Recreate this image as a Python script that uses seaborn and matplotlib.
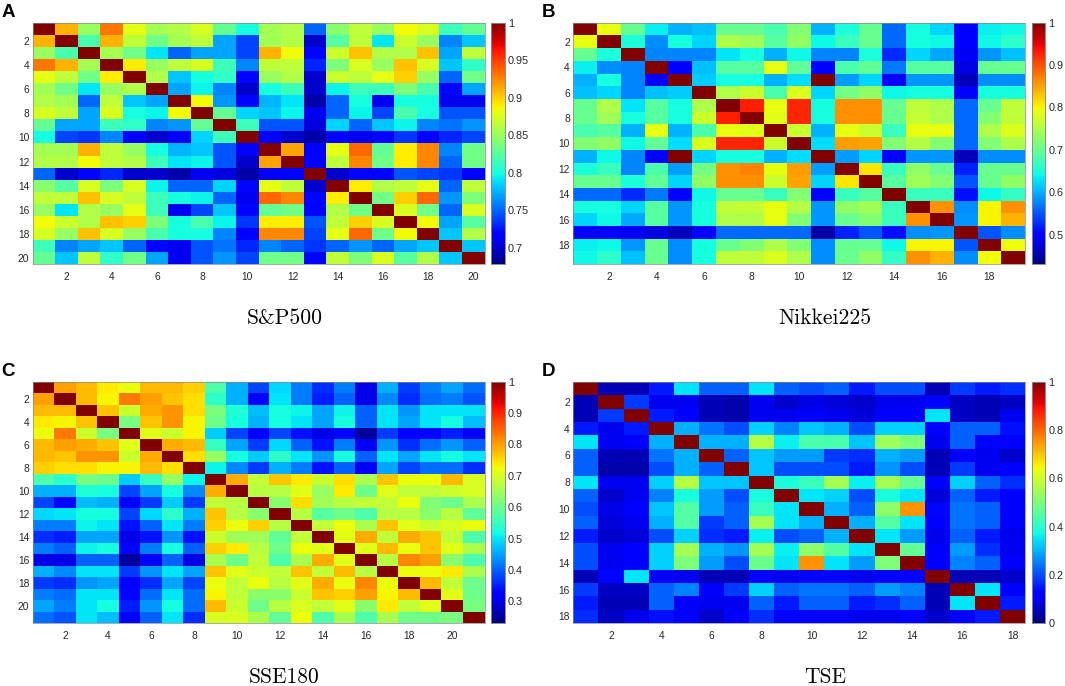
import numpy as np
import matplotlib
matplotlib.use("Agg")
import matplotlib.pyplot as plt
import seaborn as sns

sns.set_style("white")
plt.rcParams['font.family'] = ['Liberation Sans', 'DejaVu Sans']

# ---------------- data ----------------
sp500 = [
 [1.0,0.91,0.85,0.93,0.88,0.855,0.86,0.875,0.83,0.80,0.855,0.86,0.75,0.845,0.865,0.85,0.885,0.875,0.815,0.83],
 [0.91,1.0,0.82,0.91,0.865,0.835,0.855,0.865,0.77,0.74,0.855,0.86,0.70,0.825,0.865,0.79,0.87,0.85,0.76,0.78],
 [0.85,0.82,1.0,0.855,0.835,0.79,0.75,0.77,0.77,0.74,0.91,0.885,0.72,0.87,0.905,0.86,0.86,0.905,0.77,0.865],
 [0.93,0.91,0.855,1.0,0.89,0.85,0.865,0.875,0.815,0.76,0.865,0.865,0.73,0.84,0.875,0.85,0.905,0.875,0.78,0.81],
 [0.88,0.865,0.835,0.89,1.0,0.86,0.78,0.80,0.81,0.72,0.85,0.86,0.70,0.87,0.865,0.88,0.90,0.85,0.75,0.835],
 [0.855,0.835,0.79,0.85,0.86,1.0,0.77,0.795,0.76,0.70,0.80,0.815,0.70,0.795,0.815,0.815,0.84,0.82,0.72,0.77],
 [0.86,0.855,0.75,0.865,0.78,0.77,1.0,0.885,0.765,0.72,0.775,0.79,0.69,0.75,0.80,0.71,0.80,0.80,0.71,0.71],
 [0.875,0.865,0.77,0.875,0.80,0.795,0.885,1.0,0.83,0.785,0.78,0.795,0.71,0.75,0.795,0.74,0.82,0.80,0.745,0.745],
 [0.83,0.77,0.77,0.815,0.81,0.76,0.765,0.83,1.0,0.815,0.745,0.745,0.705,0.785,0.75,0.78,0.795,0.76,0.755,0.765],
 [0.80,0.74,0.735,0.76,0.72,0.70,0.715,0.785,0.815,1.0,0.715,0.70,0.69,0.72,0.71,0.72,0.735,0.715,0.73,0.74],
 [0.855,0.855,0.91,0.865,0.85,0.80,0.775,0.78,0.745,0.715,1.0,0.915,0.715,0.88,0.935,0.83,0.89,0.925,0.76,0.835],
 [0.86,0.86,0.885,0.865,0.86,0.815,0.79,0.795,0.745,0.70,0.915,1.0,0.715,0.865,0.925,0.835,0.89,0.925,0.75,0.835],
 [0.75,0.70,0.72,0.73,0.70,0.70,0.69,0.71,0.705,0.69,0.715,0.715,1.0,0.70,0.72,0.72,0.745,0.74,0.735,0.72],
 [0.845,0.825,0.875,0.84,0.875,0.795,0.75,0.75,0.785,0.72,0.88,0.865,0.70,1.0,0.89,0.86,0.865,0.88,0.75,0.865],
 [0.865,0.865,0.905,0.875,0.865,0.815,0.80,0.795,0.75,0.71,0.935,0.925,0.72,0.89,1.0,0.835,0.90,0.935,0.765,0.84],
 [0.85,0.79,0.86,0.85,0.88,0.815,0.71,0.74,0.78,0.72,0.83,0.835,0.72,0.86,0.835,1.0,0.875,0.835,0.75,0.875],
 [0.885,0.87,0.86,0.905,0.90,0.84,0.80,0.82,0.795,0.735,0.89,0.89,0.745,0.865,0.90,0.875,1.0,0.885,0.77,0.825],
 [0.875,0.85,0.905,0.875,0.85,0.82,0.80,0.80,0.76,0.715,0.925,0.925,0.74,0.88,0.935,0.835,0.885,1.0,0.78,0.86],
 [0.815,0.76,0.77,0.78,0.75,0.72,0.71,0.745,0.755,0.73,0.76,0.75,0.735,0.75,0.765,0.75,0.77,0.78,1.0,0.78],
 [0.83,0.78,0.865,0.81,0.835,0.77,0.71,0.745,0.765,0.74,0.835,0.835,0.72,0.865,0.84,0.875,0.825,0.86,0.78,1.0],
]

nikkei225 = [
 [1.0,0.79,0.70,0.635,0.60,0.61,0.70,0.70,0.68,0.72,0.60,0.65,0.70,0.56,0.645,0.62,0.50,0.635,0.64],
 [0.79,1.0,0.65,0.58,0.645,0.62,0.75,0.74,0.69,0.73,0.64,0.67,0.70,0.56,0.645,0.64,0.50,0.64,0.66],
 [0.70,0.65,1.0,0.575,0.575,0.575,0.63,0.645,0.60,0.64,0.575,0.575,0.65,0.525,0.62,0.595,0.49,0.585,0.61],
 [0.635,0.58,0.575,1.0,0.50,0.61,0.69,0.69,0.79,0.695,0.50,0.68,0.695,0.57,0.69,0.69,0.48,0.70,0.70],
 [0.60,0.645,0.575,0.50,1.0,0.615,0.645,0.645,0.60,0.625,1.0,0.59,0.62,0.50,0.585,0.585,0.46,0.58,0.58],
 [0.61,0.62,0.575,0.61,0.615,1.0,0.75,0.77,0.68,0.78,0.62,0.71,0.73,0.64,0.645,0.645,0.50,0.645,0.645],
 [0.70,0.75,0.63,0.69,0.645,0.75,1.0,0.93,0.79,0.925,0.645,0.86,0.86,0.70,0.76,0.75,0.56,0.70,0.76],
 [0.70,0.74,0.645,0.69,0.645,0.77,0.93,1.0,0.785,0.925,0.645,0.86,0.86,0.70,0.765,0.75,0.56,0.72,0.76],
 [0.68,0.69,0.60,0.79,0.60,0.68,0.79,0.785,1.0,0.77,0.60,0.79,0.77,0.67,0.79,0.79,0.56,0.75,0.78],
 [0.72,0.73,0.64,0.695,0.625,0.78,0.925,0.925,0.77,1.0,0.625,0.855,0.85,0.72,0.755,0.72,0.56,0.72,0.75],
 [0.60,0.64,0.575,0.50,1.0,0.62,0.645,0.645,0.60,0.625,1.0,0.59,0.62,0.50,0.585,0.585,0.46,0.58,0.58],
 [0.65,0.67,0.575,0.68,0.59,0.71,0.86,0.87,0.79,0.855,0.59,1.0,0.81,0.67,0.73,0.70,0.52,0.70,0.70],
 [0.70,0.70,0.65,0.695,0.62,0.73,0.86,0.86,0.77,0.85,0.62,0.81,1.0,0.69,0.74,0.72,0.55,0.70,0.73],
 [0.56,0.56,0.525,0.57,0.50,0.64,0.70,0.70,0.67,0.72,0.50,0.67,0.69,1.0,0.67,0.67,0.51,0.64,0.665],
 [0.645,0.645,0.62,0.69,0.585,0.645,0.76,0.765,0.79,0.755,0.585,0.73,0.74,0.67,1.0,0.86,0.58,0.80,0.86],
 [0.62,0.64,0.595,0.69,0.585,0.645,0.75,0.75,0.79,0.72,0.585,0.70,0.72,0.67,0.86,1.0,0.585,0.80,0.84],
 [0.50,0.50,0.49,0.48,0.46,0.50,0.56,0.56,0.56,0.56,0.45,0.52,0.55,0.51,0.58,0.585,1.0,0.55,0.58],
 [0.635,0.64,0.585,0.70,0.58,0.645,0.70,0.72,0.75,0.72,0.58,0.70,0.70,0.64,0.80,0.80,0.55,1.0,0.795],
 [0.64,0.66,0.61,0.70,0.58,0.645,0.76,0.76,0.78,0.75,0.58,0.70,0.73,0.665,0.86,0.84,0.58,0.795,1.0],
]

sse180 = [
 [1.0,0.80,0.78,0.74,0.72,0.78,0.78,0.76,0.57,0.46,0.38,0.49,0.42,0.36,0.42,0.30,0.46,0.37,0.42,0.45,0.41],
 [0.80,1.0,0.78,0.73,0.83,0.80,0.77,0.75,0.54,0.46,0.33,0.50,0.42,0.35,0.40,0.30,0.43,0.36,0.41,0.42,0.39],
 [0.78,0.78,1.0,0.77,0.69,0.79,0.81,0.75,0.61,0.53,0.47,0.52,0.51,0.45,0.51,0.40,0.50,0.44,0.50,0.50,0.50],
 [0.74,0.73,0.77,1.0,0.61,0.77,0.81,0.73,0.60,0.52,0.46,0.52,0.50,0.45,0.52,0.40,0.50,0.45,0.50,0.52,0.47],
 [0.72,0.83,0.69,0.61,1.0,0.71,0.69,0.73,0.48,0.38,0.32,0.38,0.34,0.30,0.33,0.25,0.37,0.32,0.33,0.35,0.32],
 [0.78,0.80,0.79,0.77,0.71,1.0,0.79,0.78,0.55,0.45,0.37,0.49,0.40,0.34,0.42,0.31,0.44,0.36,0.41,0.44,0.40],
 [0.78,0.77,0.81,0.81,0.69,0.79,1.0,0.75,0.64,0.52,0.48,0.54,0.50,0.44,0.52,0.40,0.50,0.45,0.50,0.52,0.50],
 [0.76,0.75,0.75,0.73,0.73,0.78,0.75,1.0,0.51,0.43,0.37,0.46,0.42,0.34,0.40,0.31,0.45,0.38,0.41,0.41,0.36],
 [0.57,0.54,0.61,0.60,0.48,0.55,0.64,0.51,1.0,0.79,0.68,0.77,0.74,0.69,0.75,0.66,0.77,0.72,0.72,0.78,0.70],
 [0.46,0.46,0.53,0.52,0.38,0.45,0.52,0.43,0.79,1.0,0.67,0.67,0.71,0.64,0.74,0.60,0.71,0.68,0.68,0.69,0.70],
 [0.38,0.33,0.47,0.46,0.32,0.37,0.48,0.37,0.68,0.67,1.0,0.63,0.75,0.65,0.67,0.68,0.68,0.72,0.62,0.60,0.66],
 [0.49,0.50,0.52,0.52,0.38,0.49,0.54,0.46,0.77,0.67,0.63,1.0,0.67,0.58,0.60,0.57,0.67,0.67,0.63,0.67,0.59],
 [0.42,0.42,0.51,0.50,0.34,0.40,0.50,0.42,0.76,0.72,0.76,0.67,1.0,0.68,0.72,0.66,0.77,0.71,0.69,0.70,0.72],
 [0.36,0.35,0.45,0.45,0.30,0.34,0.44,0.34,0.69,0.65,0.65,0.59,0.68,1.0,0.71,0.79,0.68,0.79,0.77,0.68,0.57],
 [0.42,0.40,0.51,0.52,0.33,0.42,0.52,0.40,0.76,0.74,0.67,0.60,0.72,0.71,1.0,0.71,0.78,0.72,0.77,0.71,0.66],
 [0.30,0.30,0.40,0.40,0.25,0.31,0.40,0.30,0.66,0.60,0.68,0.57,0.66,0.79,0.71,1.0,0.67,0.82,0.80,0.63,0.57],
 [0.46,0.43,0.50,0.50,0.37,0.44,0.50,0.45,0.77,0.71,0.69,0.68,0.77,0.68,0.78,0.67,1.0,0.72,0.72,0.74,0.66],
 [0.37,0.36,0.44,0.45,0.32,0.36,0.45,0.38,0.72,0.68,0.72,0.67,0.71,0.79,0.72,0.82,0.72,1.0,0.78,0.68,0.60],
 [0.42,0.41,0.50,0.50,0.33,0.41,0.50,0.41,0.73,0.68,0.63,0.63,0.69,0.77,0.76,0.80,0.73,0.78,1.0,0.71,0.60],
 [0.45,0.42,0.50,0.52,0.35,0.44,0.52,0.41,0.78,0.69,0.60,0.67,0.70,0.68,0.71,0.63,0.74,0.68,0.71,1.0,0.61],
 [0.41,0.39,0.50,0.47,0.32,0.40,0.50,0.36,0.70,0.70,0.66,0.59,0.72,0.57,0.66,0.57,0.66,0.60,0.60,0.61,1.0],
]

tse = [
 [1.0,0.05,0.05,0.15,0.35,0.22,0.22,0.35,0.22,0.20,0.22,0.15,0.20,0.20,0.05,0.18,0.15,0.17],
 [0.05,1.0,0.18,0.10,0.10,0.05,0.04,0.10,0.07,0.09,0.08,0.07,0.10,0.10,0.13,0.06,0.05,0.06],
 [0.05,0.18,1.0,0.15,0.12,0.05,0.04,0.10,0.10,0.12,0.10,0.08,0.12,0.12,0.35,0.06,0.05,0.10],
 [0.15,0.10,0.15,1.0,0.30,0.24,0.20,0.33,0.25,0.32,0.30,0.20,0.33,0.33,0.12,0.22,0.22,0.14],
 [0.35,0.10,0.12,0.30,1.0,0.30,0.30,0.57,0.36,0.44,0.44,0.32,0.54,0.50,0.10,0.22,0.12,0.12],
 [0.22,0.05,0.05,0.24,0.30,1.0,0.22,0.32,0.28,0.28,0.18,0.17,0.30,0.28,0.05,0.12,0.10,0.07],
 [0.22,0.04,0.04,0.20,0.30,0.22,1.0,0.32,0.20,0.20,0.20,0.15,0.27,0.20,0.05,0.18,0.10,0.12],
 [0.35,0.10,0.10,0.33,0.57,0.32,0.32,1.0,0.38,0.42,0.55,0.36,0.55,0.47,0.12,0.33,0.22,0.17],
 [0.22,0.07,0.10,0.25,0.38,0.28,0.20,0.38,1.0,0.35,0.33,0.20,0.38,0.35,0.08,0.22,0.15,0.12],
 [0.20,0.09,0.12,0.32,0.45,0.28,0.22,0.42,0.35,1.0,0.30,0.22,0.52,0.75,0.13,0.24,0.22,0.12],
 [0.22,0.08,0.10,0.30,0.45,0.18,0.22,0.55,0.35,0.30,1.0,0.30,0.45,0.35,0.12,0.24,0.22,0.12],
 [0.15,0.07,0.08,0.20,0.33,0.17,0.15,0.36,0.20,0.22,0.30,1.0,0.35,0.28,0.10,0.22,0.15,0.10],
 [0.20,0.10,0.12,0.33,0.55,0.30,0.27,0.55,0.36,0.52,0.45,0.35,1.0,0.47,0.12,0.28,0.17,0.10],
 [0.20,0.10,0.12,0.33,0.50,0.28,0.20,0.48,0.35,0.75,0.35,0.28,0.50,1.0,0.12,0.25,0.22,0.12],
 [0.05,0.13,0.35,0.12,0.10,0.05,0.05,0.12,0.10,0.13,0.12,0.10,0.12,0.12,1.0,0.05,0.05,0.07],
 [0.18,0.06,0.06,0.22,0.25,0.12,0.18,0.33,0.22,0.24,0.24,0.22,0.28,0.25,0.05,1.0,0.35,0.12],
 [0.15,0.05,0.05,0.22,0.12,0.10,0.10,0.22,0.15,0.22,0.22,0.15,0.17,0.22,0.05,0.35,1.0,0.15],
 [0.17,0.06,0.10,0.14,0.12,0.07,0.12,0.17,0.12,0.12,0.12,0.10,0.10,0.12,0.07,0.12,0.15,1.0],
]

panel_letters = ["A", "B", "C", "D"]
panel_titles = ["S&P500", "Nikkei225", "SSE180", "TSE"]
color_min = [0.678, 0.43, 0.23, 0.0]
cbar_ticks = [[0.7, 0.75, 0.8, 0.85, 0.9, 0.95, 1.0],
              [0.5, 0.6, 0.7, 0.8, 0.9, 1.0],
              [0.3, 0.4, 0.5, 0.6, 0.7, 0.8, 0.9, 1.0],
              [0.0, 0.2, 0.4, 0.6, 0.8, 1.0]]
cbar_labels = [["0.7", "0.75", "0.8", "0.85", "0.9", "0.95", "1"],
               ["0.5", "0.6", "0.7", "0.8", "0.9", "1"],
               ["0.3", "0.4", "0.5", "0.6", "0.7", "0.8", "0.9", "1"],
               ["0", "0.2", "0.4", "0.6", "0.8", "1"]]
matrices = [sp500, nikkei225, sse180, tse]

# ---------------- layout (pixels) ----------------
W, H = 1065, 686
fig = plt.figure(figsize=(W / 100, H / 100), dpi=100)

def frac(x0, y_top, w, h):
    return [x0 / W, (H - y_top - h) / H, w / W, h / H]

lefts = [32.7, 573.3]
tops = [22.7, 381.7]
hm_w, hm_h = 451.8, 241.5
cb_gap, cb_w = 6.7, 13.3
ink = "#262626"

for k, mat in enumerate(matrices):
    col, row = k % 2, k // 2
    x0, yt = lefts[col], tops[row]
    ax = fig.add_axes(frac(x0, yt, hm_w, hm_h))
    cax = fig.add_axes(frac(x0 + hm_w + cb_gap, yt, cb_w, hm_h))
    data = np.array(mat)
    n = data.shape[0]
    sns.heatmap(data, ax=ax, cbar_ax=cax, cmap="jet", vmin=color_min[k], vmax=1.0,
                xticklabels=False, yticklabels=False, square=False)
    labs = list(range(2, n + 1, 2))
    ax.set_xticks([v - 0.5 for v in labs])
    ax.set_xticklabels([str(v) for v in labs])
    ax.set_yticks([v - 0.5 for v in labs])
    ax.set_yticklabels([str(v) for v in labs], rotation=0)
    ax.tick_params(axis="both", direction="in", length=3, width=0.5, color="#555555",
                   labelsize=7.4, labelcolor=ink, top=True, right=True)
    ax.tick_params(axis="x", pad=5.5)
    ax.tick_params(axis="y", pad=2.5)
    for s in ax.spines.values():
        s.set_visible(True)
        s.set_linewidth(0.5)
        s.set_color("#888888")

    cax.set_yticks(cbar_ticks[k])
    cax.set_yticklabels(cbar_labels[k])
    cax.tick_params(axis="y", direction="in", length=2.5, width=0.5, color="#555555",
                    labelsize=7.8, labelcolor=ink, pad=2.5, left=True, right=True)
    for s in cax.spines.values():
        s.set_visible(True)
        s.set_linewidth(0.5)
        s.set_color("#888888")

    # panel letter
    fig.text((x0 - 31.5) / W, 1 - (yt - 10.5) / H, panel_letters[k],
             fontsize=13.5, fontweight="bold", color="black", ha="left", va="center")
    # title below
    fig.text((x0 + 251.6) / W, 1 - (yt + 295.6) / H, panel_titles[k],
             family="cmr10", fontsize=15.5, color="black", ha="center", va="center")

fig.savefig("out.png", dpi=100)
